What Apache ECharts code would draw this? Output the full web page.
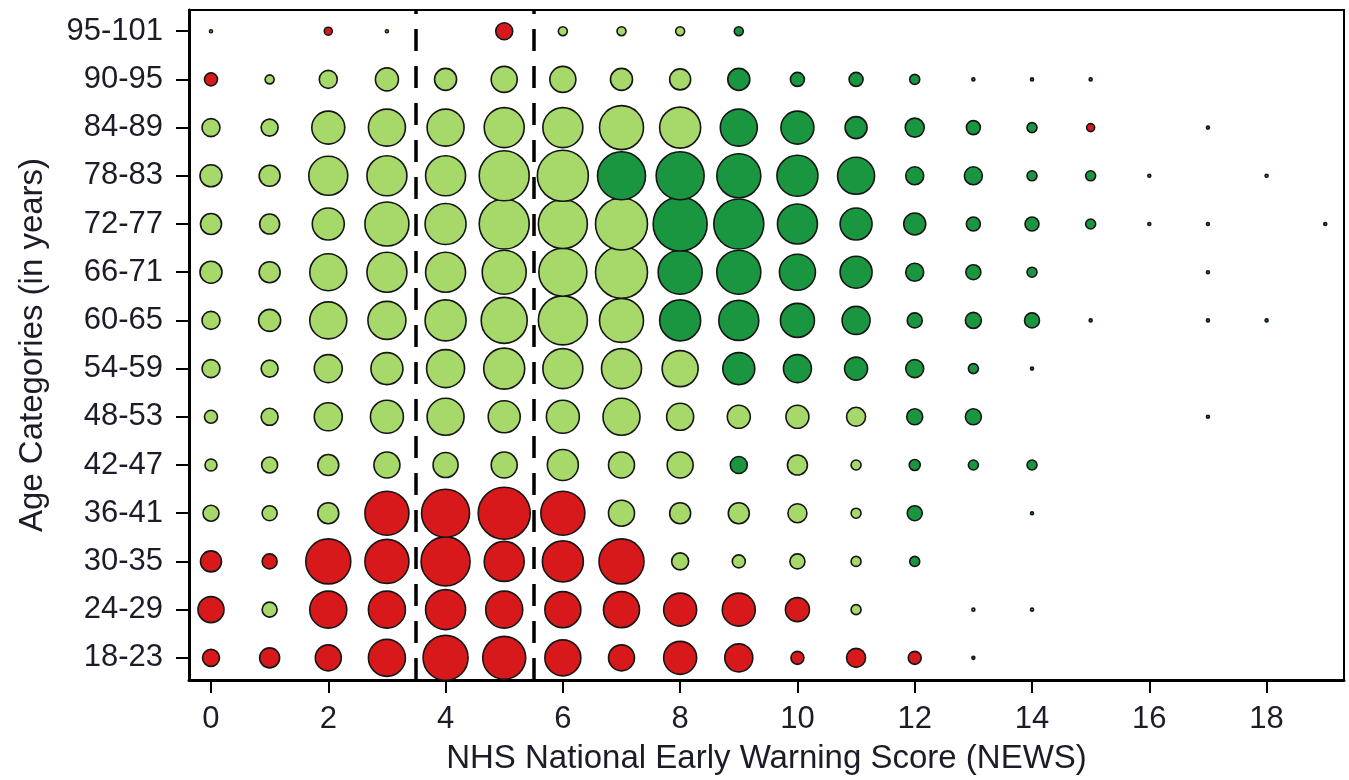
<!DOCTYPE html>
<html>
<head>
<meta charset="utf-8">
<script src="https://cdn.jsdelivr.net/npm/echarts@6/dist/echarts.min.js"></script>
<style>
html,body{margin:0;padding:0;background:#fff;}
#chart{width:1349px;height:780px;}
</style>
</head>
<body>
<div id="chart"></div>
<script>
// Age categories, bottom to top
const ageCategories = ['18-23','24-29','30-35','36-41','42-47','48-53','54-59','60-65','66-71','72-77','78-83','84-89','90-95','95-101'];
// NEWS scores 0..19
const newsScores = [0,1,2,3,4,5,6,7,8,9,10,11,12,13,14,15,16,17,18,19];
const xTickLabels = [0,2,4,6,8,10,12,14,16,18];
const cutoffs = [3.5, 5.5];

// Relative frequency (bubble magnitude) per age category, index = NEWS score
const freq_18_23  = [17,20,26,37,45,43,36,26,33,28,13,19,13,3,0,0,0,0,0,0];
const freq_24_29  = [26,15,37,37,40,37,36,36,33,33,24,10,0,3,3,0,0,0,0,0];
const freq_30_35  = [21,15,45,44,49,40,41,45,17,13,15,10,10,0,0,0,0,0,0,0];
const freq_36_41  = [16,15,21,44,48,52,44,26,21,21,19,10,15,0,3,0,0,0,0,0];
const freq_42_47  = [12,16,21,26,25,26,31,26,26,17,20,10,11,10,10,0,0,0,0,0];
const freq_48_53  = [13,17,28,33,37,32,33,37,27,23,23,19,16,16,0,0,0,3,0,0];
const freq_54_59  = [18,17,28,32,38,41,40,40,36,32,28,23,18,10,3,0,0,0,0,0];
const freq_60_65  = [18,22,37,38,41,46,49,44,41,40,34,28,15,16,15,3,0,3,3,0];
const freq_66_71  = [22,21,37,40,40,44,48,52,44,44,36,32,18,15,10,0,0,3,0,0];
const freq_72_77  = [21,20,32,44,41,50,49,52,54,50,40,32,22,14,14,10,3,3,0,3];
const freq_78_83  = [22,21,39,40,40,50,51,48,48,44,41,37,18,18,10,10,3,0,3,0];
const freq_84_89  = [18,17,33,37,37,40,40,44,41,37,33,22,19,14,10,8,0,3,0,0];
const freq_90_95  = [13,9,18,23,22,26,26,22,21,22,14,14,10,3,3,3,0,0,0,0];
const freq_95_101 = [3,0,8,3,0,17,9,9,9,9,0,0,0,0,0,0,0,0,0,0];

// Group per cell: R = red group, L = light green group, D = dark green group
const group_18_23  = 'RRRRRRRRRRRRRR......';
const group_24_29  = 'RLRRRRRRRRRL.LL.....';
const group_30_35  = 'RRRRRRRRLLLLD.......';
const group_36_41  = 'LLLRRRRLLLLLD.D.....';
const group_42_47  = 'LLLLLLLLLDLLDDD.....';
const group_48_53  = 'LLLLLLLLLLLLDD...D..';
const group_54_59  = 'LLLLLLLLLDDDDDD.....';
const group_60_65  = 'LLLLLLLLDDDDDDDD.DD.';
const group_66_71  = 'LLLLLLLLDDDDDDD..D..';
const group_72_77  = 'LLLLLLLLDDDDDDDDDD.D';
const group_78_83  = 'LLLLLLLDDDDDDDDDD.D.';
const group_84_89  = 'LLLLLLLLLDDDDDDR.D..';
const group_90_95  = 'RLLLLLLLLDDDDDDD....';
const group_95_101 = 'L.RL.RLLLD..........';

const freqRows = [freq_18_23,freq_24_29,freq_30_35,freq_36_41,freq_42_47,freq_48_53,freq_54_59,freq_60_65,freq_66_71,freq_72_77,freq_78_83,freq_84_89,freq_90_95,freq_95_101];
const groupRows = [group_18_23,group_24_29,group_30_35,group_36_41,group_42_47,group_48_53,group_54_59,group_60_65,group_66_71,group_72_77,group_78_83,group_84_89,group_90_95,group_95_101];

const groups = {R: [], L: [], D: []};
freqRows.forEach((row, yi) => {
  row.forEach((v, xi) => {
    const g = groupRows[yi][xi];
    if (v > 0 && groups[g]) groups[g].push([newsScores[xi], yi, v]);
  });
});

const colors = {R: '#d7191c', L: '#a6d96a', D: '#1a9641'};
const FONT = 'Liberation Sans, Arial, sans-serif';
const TXT = '#1c1c28';

function bubbleSeries(key, extra) {
  return Object.assign({
    type: 'scatter',
    data: groups[key],
    symbol: 'circle',
    symbolSize: v => v[2],
    itemStyle: {color: colors[key], borderColor: '#151515', borderWidth: 1.6, opacity: 1},
    emphasis: {disabled: true},
    z: 3
  }, extra || {});
}

const chart = echarts.init(document.getElementById('chart'), null, {renderer: 'canvas'});
chart.setOption({
  animation: false,
  backgroundColor: '#fff',
  grid: {left: 189, right: 5, top: 10, bottom: 100, show: true, borderColor: '#000', borderWidth: 2, backgroundColor: 'transparent'},
  xAxis: {
    type: 'value',
    min: -0.375, max: 19.32,
    name: 'NHS National Early Warning Score (NEWS)',
    nameLocation: 'middle',
    nameGap: 62,
    nameTextStyle: {fontFamily: FONT, fontSize: 33, color: TXT},
    axisLine: {show: true, onZero: false, lineStyle: {color: '#000', width: 3}},
    axisTick: {show: true, length: 13, lineStyle: {color: '#000', width: 2}, customValues: xTickLabels},
    axisLabel: {fontFamily: FONT, fontSize: 31, color: TXT, margin: 24, customValues: xTickLabels},
    splitLine: {show: false}
  },
  yAxis: {
    type: 'value',
    min: -0.46, max: 13.44,
    name: 'Age Categories (in years)',
    nameLocation: 'middle',
    nameGap: 140,
    nameRotate: 90,
    nameTextStyle: {fontFamily: FONT, fontSize: 33, color: TXT},
    axisLine: {show: true, onZero: false, lineStyle: {color: '#000', width: 3}},
    axisTick: {show: true, length: 13, lineStyle: {color: '#000', width: 2}, customValues: ageCategories.map((_, i) => i)},
    axisLabel: {fontFamily: FONT, fontSize: 31, color: TXT, margin: 26,
      customValues: ageCategories.map((_, i) => i),
      formatter: v => ageCategories[Math.round(v)] || ''},
    splitLine: {show: false}
  },
  series: [
    bubbleSeries('L'),
    bubbleSeries('D'),
    bubbleSeries('R', {
      markLine: {
        silent: true,
        symbol: 'none',
        label: {show: false},
        lineStyle: {color: '#000', width: 3.5, type: [22, 15]},
        emphasis: {disabled: true},
        data: cutoffs.map(c => ({xAxis: c})),
        z: 2
      }
    })
  ]
});
</script>
</body>
</html>
